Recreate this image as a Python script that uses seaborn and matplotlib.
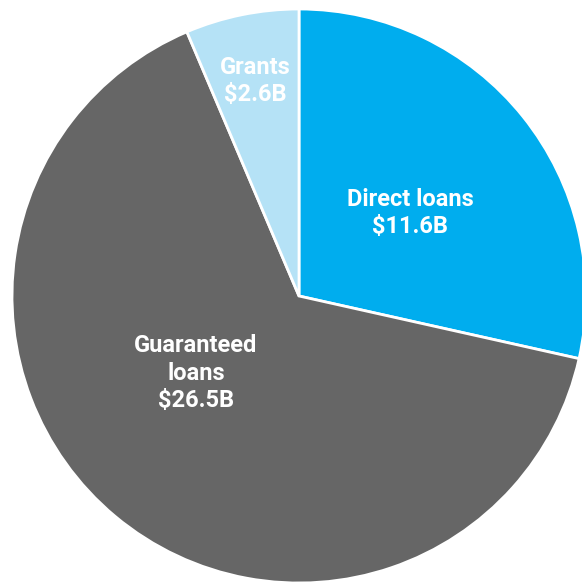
import matplotlib.pyplot as plt
import seaborn as sns

sns.set_theme(style="white")
plt.rcParams["font.family"] = ["Roboto", "DejaVu Sans"]

categories = ["Direct loans", "Guaranteed\nloans", "Grants"]
values = [11.6, 26.5, 2.6]
colors = ["#00ADEE", "#666666", "#B5E2F6"]
# label anchor points in pie units (radius 1)
label_pos = [(0.387, 0.29), (-0.359, -0.27), (-0.153, 0.75)]

fig = plt.figure(figsize=(5.82, 5.83), dpi=100)
ax = fig.add_axes([0, 0, 1, 1])
wedges, _ = ax.pie(
    values,
    colors=colors,
    startangle=90,
    counterclock=False,
    radius=1,
    wedgeprops={"edgecolor": "white", "linewidth": 2},
)
for name, v, (x, y) in zip(categories, values, label_pos):
    ax.text(x, y, f"{name}\n${v}B", ha="center", va="center", color="white",
            fontsize=17, fontweight="bold", linespacing=1.25)

ax.set_aspect("auto")
ax.set_xlim(-299 / 287, 283 / 287)
ax.set_ylim(-287 / 287, 296 / 287)
ax.axis("off")
plt.savefig("out.png", dpi=100)
